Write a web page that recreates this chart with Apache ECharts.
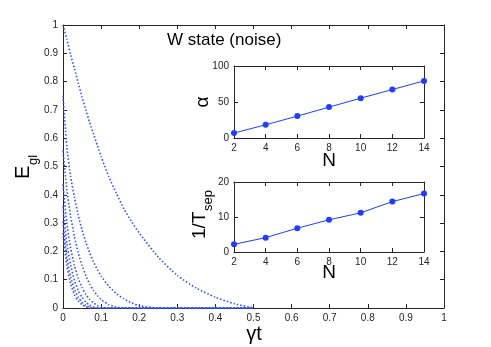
<!DOCTYPE html>
<html>
<head>
<meta charset="utf-8">
<script src="https://cdn.jsdelivr.net/npm/echarts@6/dist/echarts.min.js"></script>
<style>
  html, body { margin: 0; padding: 0; background: #fff; }
  #main { width: 491px; height: 347px; }
</style>
</head>
<body>
<div id="main"></div>
<script>
// decay curves (gamma t grid, one array per N)
var tGrid = [0, 0.01, 0.02, 0.03, 0.04, 0.05, 0.06, 0.07, 0.08, 0.09, 0.1, 0.12, 0.14, 0.16, 0.18, 0.2, 0.25, 0.3, 0.35, 0.4, 0.45, 0.5];
var egN2  = [1, 0.95, 0.895, 0.845, 0.795, 0.745, 0.70, 0.655, 0.615, 0.575, 0.535, 0.465, 0.405, 0.35, 0.305, 0.265, 0.18, 0.115, 0.07, 0.038, 0.015, 0];
var egN4  = [0.75, 0.57, 0.465, 0.39, 0.328, 0.275, 0.232, 0.195, 0.163, 0.136, 0.113, 0.077, 0.051, 0.032, 0.018, 0.008, 0, 0, 0, 0, 0, 0];
var egN6  = [0.556, 0.42, 0.325, 0.252, 0.195, 0.15, 0.114, 0.085, 0.062, 0.044, 0.03, 0.012, 0.003, 0, 0, 0, 0, 0, 0, 0, 0, 0];
var egN8  = [0.4375, 0.30, 0.212, 0.15, 0.105, 0.072, 0.048, 0.03, 0.018, 0.009, 0.003, 0, 0, 0, 0, 0, 0, 0, 0, 0, 0, 0];
var egN10 = [0.36, 0.23, 0.152, 0.098, 0.062, 0.038, 0.021, 0.01, 0.004, 0.001, 0, 0, 0, 0, 0, 0, 0, 0, 0, 0, 0, 0];
var egN12 = [0.306, 0.18, 0.11, 0.066, 0.038, 0.02, 0.009, 0.003, 0, 0, 0, 0, 0, 0, 0, 0, 0, 0, 0, 0, 0, 0];
var egN14 = [0.265, 0.15, 0.085, 0.047, 0.025, 0.012, 0.004, 0, 0, 0, 0, 0, 0, 0, 0, 0, 0, 0, 0, 0, 0, 0];
var curves = [egN2, egN4, egN6, egN8, egN10, egN12, egN14];

// insets
var nVals = [2, 4, 6, 8, 10, 12, 14];
var alphaVals = [6.9, 18.4, 30.4, 42.9, 55.3, 67.3, 79.3];
var invTsep = [2.2, 4.1, 6.8, 9.2, 11.2, 14.4, 16.7];

var FONT = 'Liberation Sans';
var AX = '#262626';
var BLUE = '#1f3cff';

function pairs(xs, ys) {
    return xs.map(function (x, i) { return [x, ys[i]]; });
}
function fmt(v) { return String(+v.toFixed(2)); }

function axis(grid, pos, min, max, step, labels) {
    return {
        type: 'value', gridIndex: grid, position: pos,
        min: min, max: max, interval: step,
        axisLine: { show: true, onZero: false, lineStyle: { color: AX, width: 1 } },
        axisTick: { show: true, inside: true, length: 4, lineStyle: { color: AX } },
        axisLabel: { show: labels, color: AX, fontFamily: FONT, fontSize: 10, margin: 5, formatter: fmt },
        splitLine: { show: false }
    };
}

var myChart = echarts.init(document.getElementById('main'));

var series = curves.map(function (c) {
    return {
        type: 'line', xAxisIndex: 0, yAxisIndex: 0,
        data: pairs(tGrid, c), smooth: 0.2, showSymbol: false,
        lineStyle: { color: '#3550ff', width: 1.6, type: [1.5, 2] },
        animation: false
    };
});
series.push({
    type: 'line', xAxisIndex: 2, yAxisIndex: 2,
    data: pairs(nVals, alphaVals), symbol: 'circle', symbolSize: 6,
    itemStyle: { color: BLUE }, lineStyle: { color: BLUE, width: 1 }, animation: false
});
series.push({
    type: 'line', xAxisIndex: 4, yAxisIndex: 4,
    data: pairs(nVals, invTsep), symbol: 'circle', symbolSize: 6,
    itemStyle: { color: BLUE }, lineStyle: { color: BLUE, width: 1 }, animation: false
});

var option = {
    backgroundColor: '#fff',
    animation: false,
    grid: [
        { left: 63, top: 25, width: 381, height: 283 },
        { left: 234, top: 66, width: 190, height: 72, show: true, backgroundColor: '#fff', borderWidth: 0 },
        { left: 234, top: 182, width: 190, height: 70, show: true, backgroundColor: '#fff', borderWidth: 0 }
    ],
    xAxis: [
        axis(0, 'bottom', 0, 1, 0.1, true),
        axis(0, 'top', 0, 1, 0.1, false),
        axis(1, 'bottom', 2, 14, 2, true),
        axis(1, 'top', 2, 14, 2, false),
        axis(2, 'bottom', 2, 14, 2, true),
        axis(2, 'top', 2, 14, 2, false)
    ],
    yAxis: [
        axis(0, 'left', 0, 1, 0.1, true),
        axis(0, 'right', 0, 1, 0.1, false),
        axis(1, 'left', 0, 100, 50, true),
        axis(1, 'right', 0, 100, 50, false),
        axis(2, 'left', 0, 20, 10, true),
        axis(2, 'right', 0, 20, 10, false)
    ],
    graphic: [
        { type: 'text', left: 167, top: 32, style: { text: 'W state (noise)', fontFamily: FONT, fontSize: 17, fill: '#000' } },
        { type: 'text', x: 254, y: 334, style: { text: 'γt', fontFamily: FONT, fontSize: 20, fill: '#000', align: 'center', verticalAlign: 'middle' } },
        { type: 'text', x: 329, y: 161, style: { text: 'N', fontFamily: FONT, fontSize: 19, fill: '#000', align: 'center', verticalAlign: 'middle' } },
        { type: 'text', x: 329, y: 273, style: { text: 'N', fontFamily: FONT, fontSize: 19, fill: '#000', align: 'center', verticalAlign: 'middle' } },
        {
            type: 'group', x: 203, y: 102, rotation: Math.PI / 2,
            children: [
                { type: 'text', x: 0, y: 0, style: { text: 'α', fontFamily: FONT, fontSize: 19, fill: '#000', align: 'center', verticalAlign: 'middle' } }
            ]
        },
        {
            type: 'group', x: 13, y: 179, rotation: Math.PI / 2,
            children: [
                { type: 'text', x: 0, y: 0, style: { text: 'E', fontFamily: FONT, fontSize: 20, fill: '#000', verticalAlign: 'top' } },
                { type: 'text', x: 14, y: 14, style: { text: 'gl', fontFamily: FONT, fontSize: 13, fill: '#000', verticalAlign: 'top' } }
            ]
        },
        {
            type: 'group', x: 190, y: 239, rotation: Math.PI / 2,
            children: [
                { type: 'text', x: 0, y: 0, style: { text: '1/T', fontFamily: FONT, fontSize: 19, fill: '#000', verticalAlign: 'top' } },
                { type: 'text', x: 28, y: 12, style: { text: 'sep', fontFamily: FONT, fontSize: 13, fill: '#000', verticalAlign: 'top' } }
            ]
        }
    ],
    series: series
};

myChart.setOption(option);
</script>
</body>
</html>
